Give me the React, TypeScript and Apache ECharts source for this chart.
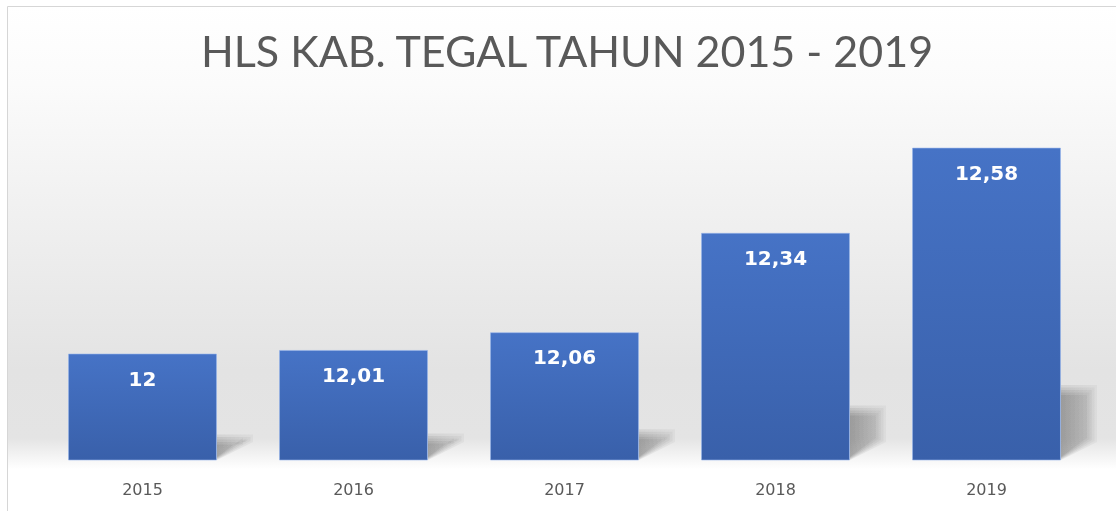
import React, { useEffect, useRef } from "react";
import * as echarts from "echarts";

const TITLE = "HLS KAB. TEGAL TAHUN 2015 - 2019";
const YEARS = ["2015", "2016", "2017", "2018", "2019"];
const HLS = [12, 12.01, 12.06, 12.34, 12.58];
const AXIS_MIN = 11.7;
const AXIS_MAX = 12.7;

export default function App() {
  const ref = useRef<HTMLDivElement>(null);

  useEffect(() => {
    if (!ref.current) return;
    const chart = echarts.init(ref.current, undefined, { renderer: "svg" });
    const BAR_RATIO = 0.706;

    const option: any = {
      animation: false,
      graphic: {
        elements: [
          {
            type: "rect",
            z: -10,
            silent: true,
            shape: { x: 7.5, y: 6.5, width: 1130, height: 520 },
            style: {
              fill: new echarts.graphic.LinearGradient(0, 0, 0, 1, [
                { offset: 0, color: "#ffffff" },
                { offset: 0.15, color: "#fbfbfb" },
                { offset: 0.4, color: "#f0f0f0" },
                { offset: 0.7, color: "#e3e3e3" },
                { offset: 0.83, color: "#e4e4e4" },
                { offset: 0.89, color: "#ffffff" },
                { offset: 1, color: "#ffffff" },
              ]),
              stroke: "#d6d6d6",
              lineWidth: 1,
            },
          },
        ],
      },
      title: {
        text: TITLE,
        left: 562,
        textAlign: "center",
        top: 24,
        textStyle: {
          fontFamily: "Lato",
          fontWeight: "normal",
          fontSize: 43,
          color: "#595959",
        },
      },
      grid: { left: 37, right: 24, top: 105, bottom: 51 },
      xAxis: {
        type: "category",
        data: YEARS,
        axisLine: { show: false },
        axisTick: { show: false },
        axisLabel: {
          margin: 21,
          fontFamily: "DejaVu Sans",
          fontSize: 16,
          color: "#595959",
        },
      },
      yAxis: {
        type: "value",
        min: AXIS_MIN,
        max: AXIS_MAX,
        show: false,
        splitLine: { show: false },
      },
      series: [
        {
          type: "custom",
          z: 1,
          silent: true,
          data: HLS.map((v, i) => [i, v]),
          renderItem: (params: any, api: any) => {
            const i = api.value(0);
            const v = api.value(1);
            const base = api.coord([i, AXIS_MIN]);
            const top = api.coord([i, v]);
            const bw = api.size([1, 0])[0] * BAR_RATIO;
            const xr = base[0] + bw / 2;
            const yb = base[1];
            const h = yb - top[1];
            const sh = h * 0.24;
            const W = 36;
            const rb = Math.min(18, sh - 6);
            const layers: any[] = [];
            for (let k = 0; k < 5; k++) {
              const d = k * 2.5;
              layers.push({
                type: "polygon",
                shape: {
                  points: [
                    [xr, yb - d * 0.3],
                    [xr, yb - sh + d],
                    [xr + W - d, yb - sh + d],
                    [xr + W - d, yb - rb - d * 0.4],
                  ],
                },
                style: {
                  fill: new echarts.graphic.LinearGradient(0, 0, 1, 0, [
                    { offset: 0, color: "rgba(0,0,0,0.075)" },
                    { offset: 1, color: "rgba(0,0,0,0.035)" },
                  ]),
                },
              });
            }
            return { type: "group", children: layers };
          },
        },
        {
          type: "bar",
          z: 2,
          data: HLS,
          barWidth: "70.6%",
          itemStyle: {
            color: new echarts.graphic.LinearGradient(0, 0, 0, 1, [
              { offset: 0, color: "#4673c6" },
              { offset: 1, color: "#3960aa" },
            ]),
            borderColor: "rgba(150,180,235,0.6)",
            borderWidth: 1,
          },
          label: {
            show: true,
            position: "insideTop",
            distance: 15,
            fontFamily: "DejaVu Sans",
            fontWeight: "bold",
            fontSize: 20,
            color: "#ffffff",
            formatter: (p: any) => String(p.value).replace(".", ","),
          },
        },
      ],
    };

    chart.setOption(option);
    return () => chart.dispose();
  }, []);

  return (
    <div
      ref={ref}
      style={{ position: "fixed", left: 0, top: 0, width: 1116, height: 511 }}
    />
  );
}
